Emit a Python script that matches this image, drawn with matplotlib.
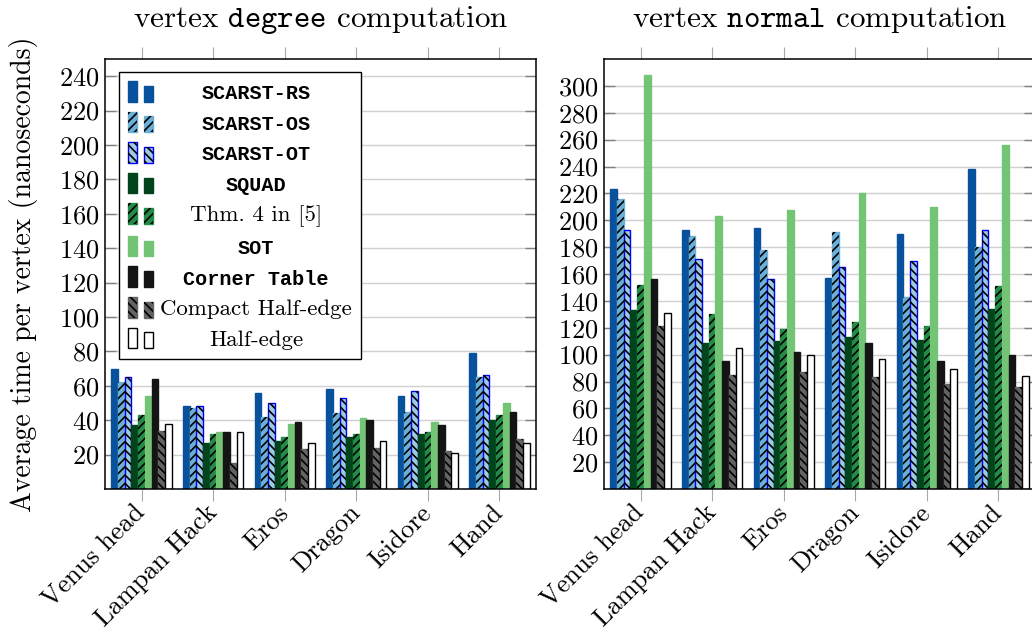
import numpy as np
import matplotlib
matplotlib.use("Agg")
import matplotlib.pyplot as plt
import matplotlib.transforms as mtransforms
from matplotlib.patches import Rectangle
from matplotlib.legend_handler import HandlerBase
from matplotlib.container import BarContainer

plt.rcParams['font.family'] = ['cmr10', 'DejaVu Serif']
plt.rcParams['mathtext.fontset'] = 'cm'
plt.rcParams['axes.unicode_minus'] = False
plt.rcParams['axes.formatter.use_mathtext'] = True
plt.rcParams['hatch.linewidth'] = 1.2

models = ["Venus head", "Lampan Hack", "Eros", "Dragon", "Isidore", "Hand"]
labels = ["SCARST-RS", "SCARST-OS", "SCARST-OT", "SQUAD", "Thm. 4 in [5]",
          "SOT", "Corner Table", "Compact Half-edge", "Half-edge"]
mono = [True, True, True, True, False, True, True, False, False]

# vertex degree computation (ns)
degree_rs = [70, 48, 56, 58, 54, 79]
degree_os = [62, 47, 42, 44, 45, 65]
degree_ot = [65, 48, 50, 53, 57, 66]
degree_squad = [37, 27, 28, 30, 32, 40]
degree_thm4 = [43, 32, 30, 32, 33, 43]
degree_sot = [54, 33, 38, 41, 39, 50]
degree_corner = [64, 33, 39, 40, 37, 45]
degree_chalf = [34, 15, 23, 24, 22, 29]
degree_half = [38, 33, 27, 28, 21, 27]

# vertex normal computation (ns)
normal_rs = [223, 193, 194, 157, 190, 238]
normal_os = [216, 188, 178, 191, 143, 180]
normal_ot = [193, 171, 156, 165, 170, 193]
normal_squad = [133, 109, 110, 113, 111, 134]
normal_thm4 = [152, 130, 119, 124, 121, 151]
normal_sot = [308, 203, 208, 220, 210, 256]
normal_corner = [156, 95, 102, 109, 95, 100]
normal_chalf = [121, 85, 87, 83, 78, 76]
normal_half = [131, 105, 100, 97, 89, 84]

degree = [degree_rs, degree_os, degree_ot, degree_squad, degree_thm4,
          degree_sot, degree_corner, degree_chalf, degree_half]
normal = [normal_rs, normal_os, normal_ot, normal_squad, normal_thm4,
          normal_sot, normal_corner, normal_chalf, normal_half]

faces = ["#08519c", "#6baed6", "#9ecae1", "#00441b", "#238b45",
         "#74c476", "#141414", "#636363", "white"]
edges = ["#08519c", "#6baed6", "#0000ff", "#00441b", "#238b45",
         "#74c476", "#141414", "#636363", "black"]
hatches = [None, "////", "\\\\\\\\", None, "////", None, None, "\\\\\\\\", None]

bw = 0.0935


class TwoBars(HandlerBase):
    def create_artists(self, legend, orig_handle, xdescent, ydescent,
                       width, height, fontsize, trans):
        i = labels.index(orig_handle.get_label())
        w = 0.36 * width
        out = []
        for x0, h in [(0, height), (width - w, 0.77 * height)]:
            r = Rectangle((x0 - xdescent, -ydescent), w, h, facecolor=faces[i],
                          edgecolor=edges[i], linewidth=1.0, transform=trans)
            out.append(r)
            if hatches[i]:
                out.append(Rectangle((x0 - xdescent, -ydescent), w, h,
                                     facecolor="none", edgecolor="black",
                                     linewidth=0, hatch=hatches[i], transform=trans))
        return out


fig = plt.figure(figsize=(10.32, 6.33), dpi=100)
ax1 = fig.add_axes([105 / 1032, 144 / 633, 431 / 1032, 430 / 633])
ax2 = fig.add_axes([604 / 1032, 144 / 633, 431 / 1032, 430 / 633])

x = np.arange(len(models))
shift = mtransforms.ScaledTranslation(-5 / 100, 0, fig.dpi_scale_trans)
handles = []
for ax, data, top, ticks, title in [
        (ax1, degree, 250, range(20, 241, 20), r"vertex $\mathtt{degree}$ computation"),
        (ax2, normal, 320, range(20, 301, 20), r"vertex $\mathtt{normal}$ computation")]:
    for i, vals in enumerate(data):
        pos = x + (i - 4) * bw
        bc = ax.bar(pos, vals, width=bw, color=faces[i], edgecolor=edges[i],
                    linewidth=1.0, label=labels[i], zorder=2)
        if hatches[i]:
            ax.bar(pos, vals, width=bw, facecolor="none", edgecolor="black",
                   linewidth=0, hatch=hatches[i], zorder=3)
        if ax is ax1:
            handles.append(bc)
    ax.set_xlim(-0.51, 5.51)
    ax.set_ylim(0, top)
    ax.set_yticks(list(ticks))
    ax.set_xticks(x)
    ax.set_xticklabels(models, rotation=45, ha="right", va="center",
                       rotation_mode="anchor")
    for lab in ax.get_xticklabels():
        lab.set_transform(lab.get_transform() + shift)
    ax.tick_params(axis="x", which="both", direction="out", length=8.5,
                   width=0.8, color="#a8a8a8", top=True, labeltop=False,
                   labelsize=19, pad=6)
    ax.tick_params(axis="y", direction="in", length=8, width=1.0,
                   color="#808080", left=True, right=True, labelsize=19, pad=4)
    ax.grid(axis="y", color="#d0d0d0", linewidth=1.0)
    ax.set_axisbelow(True)
    for s in ax.spines.values():
        s.set_linewidth(1.1)
    ax.set_title(title, fontsize=22.4, pad=23)

ax1.set_ylabel("Average time per vertex (nanoseconds)", fontsize=20, labelpad=15)

leg = ax1.legend(handles=handles, labels=labels, loc="upper left",
                 bbox_to_anchor=(0.0325, 0.97), borderaxespad=0,
                 handler_map={BarContainer: TwoBars()}, prop={"size": 16.5},
                 fancybox=False, framealpha=1, edgecolor="black",
                 borderpad=0.4, handlelength=1.1, handleheight=1.0,
                 handletextpad=0.3, labelspacing=0.37)
leg.get_frame().set_linewidth(1.0)
leg.set_zorder(5)
for t, m in zip(leg.get_texts(), mono):
    if m:
        t.set_fontfamily("Liberation Mono")
        t.set_fontweight("bold")
        t.set_fontsize(14.5)

# centre the legend entries like pgfplots does
fig.canvas.draw()
r = fig.canvas.get_renderer()
widths = [t.get_window_extent(r).width for t in leg.get_texts()]
for t, w in zip(leg.get_texts(), widths):
    t.set_x((max(widths) - w) / 2)

fig.savefig("out.png", dpi=100)
